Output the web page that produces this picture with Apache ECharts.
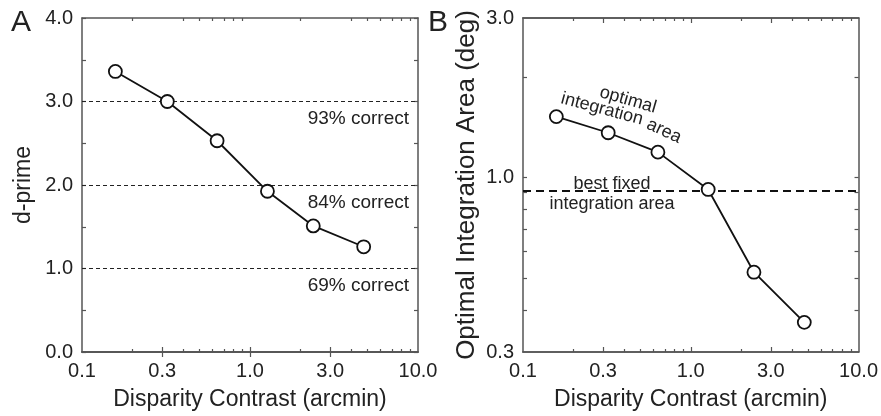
<!DOCTYPE html>
<html>
<head>
<meta charset="utf-8">
<script src="https://cdn.jsdelivr.net/npm/echarts@6/dist/echarts.min.js"></script>
<style>
  html, body { margin: 0; padding: 0; background: #fff; }
  #chart { width: 881px; height: 416px; }
</style>
</head>
<body>
<div id="chart"></div>
<script>
// disparity contrast (arcmin), same for both panels
const contrast = [0.158, 0.322, 0.637, 1.27, 2.38, 4.75];
// panel A
const dprime = [3.36, 3.0, 2.53, 1.925, 1.51, 1.26];
const criterionDprime = [3, 2, 1];
const criterionText = ["93% correct", "84% correct", "69% correct"];
// panel B
const optimalArea = [1.52, 1.36, 1.19, 0.92, 0.52, 0.368];
const bestFixedArea = 0.905;

// ticks / labels
const xLabelVals = [0.1, 0.3, 1, 3, 10];
const xLabelText = ["0.1", "0.3", "1.0", "3.0", "10.0"];
const xMajorTicks = [0.3, 1, 3];
const xMinorTicks = [0.2, 0.4, 0.5, 0.6, 0.7, 0.8, 0.9, 2, 4, 5, 6, 7, 8, 9];
const yBLabelVals = [0.3, 1, 3];
const yBLabelText = ["0.3", "1.0", "3.0"];
const yBTicks = [0.4, 0.5, 0.6, 0.7, 0.8, 0.9, 1, 2];

const FONT = "Liberation Sans";
const TXT = "#222";
const AXIS = "#555";

function pick(vals, texts, v) {
  let best = 0;
  for (let i = 1; i < vals.length; i++) {
    if (Math.abs(Math.log(vals[i] / v)) < Math.abs(Math.log(vals[best] / v))) best = i;
  }
  return texts[best];
}

function logX(grid, pos, ticks, len, labels, name) {
  return {
    type: "log",
    logBase: 10,
    gridIndex: grid,
    position: pos,
    min: 0.1,
    max: 10,
    name: name || "",
    nameLocation: "middle",
    nameGap: 36,
    nameTextStyle: { fontFamily: FONT, fontSize: 23, color: TXT },
    axisLine: { show: true, lineStyle: { color: AXIS, width: 1.5 } },
    axisTick: {
      show: true,
      inside: true,
      length: len,
      customValues: ticks,
      lineStyle: { color: AXIS, width: 1.2 },
    },
    axisLabel: {
      show: labels,
      customValues: xLabelVals,
      margin: 9,
      fontFamily: FONT,
      fontSize: 20,
      color: TXT,
      formatter: (v) => pick(xLabelVals, xLabelText, v),
    },
    splitLine: { show: false },
    minorTick: { show: false },
  };
}

const chart = echarts.init(document.getElementById("chart"), null, { renderer: "canvas" });

const yAxisA = (pos, labels) => ({
  type: "value",
  gridIndex: 0,
  position: pos,
  min: 0,
  max: 4,
  interval: 0.5,
  name: labels ? "d-prime" : "",
  nameLocation: "middle",
  nameGap: 47,
  nameTextStyle: { fontFamily: FONT, fontSize: 23, color: TXT },
  axisLine: { show: true, lineStyle: { color: AXIS, width: 1.5 } },
  axisTick: { show: true, inside: true, length: 4, lineStyle: { color: AXIS, width: 1.2 } },
  axisLabel: {
    show: labels,
    margin: 9,
    fontFamily: FONT,
    fontSize: 20,
    color: TXT,
    formatter: (v) => (v % 1 === 0 ? v.toFixed(1) : ""),
  },
  splitLine: { show: false },
});

const yAxisB = (pos, labels) => ({
  type: "log",
  logBase: 10,
  gridIndex: 1,
  position: pos,
  min: 0.3,
  max: 3,
  name: labels ? "Optimal Integration Area (deg)" : "",
  nameLocation: "middle",
  nameGap: 43,
  nameTextStyle: { fontFamily: FONT, fontSize: 26, color: TXT },
  axisLine: { show: true, lineStyle: { color: AXIS, width: 1.5 } },
  axisTick: {
    show: true,
    inside: true,
    length: 4,
    customValues: yBTicks,
    lineStyle: { color: AXIS, width: 1.2 },
  },
  axisLabel: {
    show: labels,
    customValues: yBLabelVals,
    margin: 9,
    fontFamily: FONT,
    fontSize: 20,
    color: TXT,
    formatter: (v) => pick(yBLabelVals, yBLabelText, v),
  },
  splitLine: { show: false },
  minorTick: { show: false },
});

const pointSeries = (xi, yi, values) => ({
  type: "line",
  xAxisIndex: xi,
  yAxisIndex: yi,
  data: contrast.map((c, i) => [c, values[i]]),
  symbol: "circle",
  symbolSize: 13,
  itemStyle: { color: "#fff", borderColor: "#111", borderWidth: 1.8 },
  lineStyle: { color: "#111", width: 1.8 },
  z: 5,
});

const option = {
  animation: false,
  backgroundColor: "#fff",
  grid: [
    { left: 82, top: 18, width: 336, height: 336 },
    { left: 523, top: 18, width: 337, height: 336 },
  ],
  xAxis: [
    logX(0, "bottom", xMajorTicks, 5, true, "Disparity Contrast (arcmin)"),
    logX(0, "top", xMajorTicks, 5, false),
    logX(0, "bottom", xMinorTicks, 3, false),
    logX(0, "top", xMinorTicks, 3, false),
    logX(1, "bottom", xMajorTicks, 5, true, "Disparity Contrast (arcmin)"),
    logX(1, "top", xMajorTicks, 5, false),
    logX(1, "bottom", xMinorTicks, 3, false),
    logX(1, "top", xMinorTicks, 3, false),
  ],
  yAxis: [yAxisA("left", true), yAxisA("right", false), yAxisB("left", true), yAxisB("right", false)],
  series: [
    {
      type: "line",
      xAxisIndex: 0,
      yAxisIndex: 0,
      data: [],
      markLine: {
        silent: true,
        symbol: "none",
        lineStyle: { type: [4, 3], color: "#222", width: 1 },
        label: {
          position: "insideEndBottom",
          distance: [9, 8],
          fontFamily: FONT,
          fontSize: 19,
          color: TXT,
        },
        data: criterionDprime.map((v, i) => ({ yAxis: v, label: { formatter: criterionText[i] } })),
      },
    },
    pointSeries(0, 0, dprime),
    {
      type: "line",
      xAxisIndex: 4,
      yAxisIndex: 2,
      data: [],
      markLine: {
        silent: true,
        symbol: "none",
        lineStyle: { type: [8, 5], color: "#111", width: 2 },
        label: { show: false },
        data: [{ yAxis: bestFixedArea }],
      },
    },
    pointSeries(4, 2, optimalArea),
  ],
  graphic: [
    { type: "text", left: 11, top: 8, style: { text: "A", font: "30px " + FONT, fill: TXT } },
    { type: "text", left: 428, top: 8, style: { text: "B", font: "30px " + FONT, fill: TXT } },
    {
      type: "text", x: 612, y: 184,
      style: { text: "best fixed", font: "18px " + FONT, fill: TXT, align: "center", verticalAlign: "middle" },
    },
    {
      type: "text", x: 612, y: 204,
      style: { text: "integration area", font: "18px " + FONT, fill: TXT, align: "center", verticalAlign: "middle" },
    },
    {
      type: "text", x: 628, y: 100, rotation: -16 * Math.PI / 180,
      style: { text: "optimal", font: "18px " + FONT, fill: TXT, align: "center", verticalAlign: "middle" },
    },
    {
      type: "text", x: 602, y: 109, rotation: -15 * Math.PI / 180,
      style: { text: "integration", font: "18px " + FONT, fill: TXT, align: "center", verticalAlign: "middle" },
    },
    {
      type: "text", x: 664, y: 131, rotation: -25 * Math.PI / 180,
      style: { text: "area", font: "18px " + FONT, fill: TXT, align: "center", verticalAlign: "middle" },
    },
  ],
};

chart.setOption(option);
</script>
</body>
</html>
